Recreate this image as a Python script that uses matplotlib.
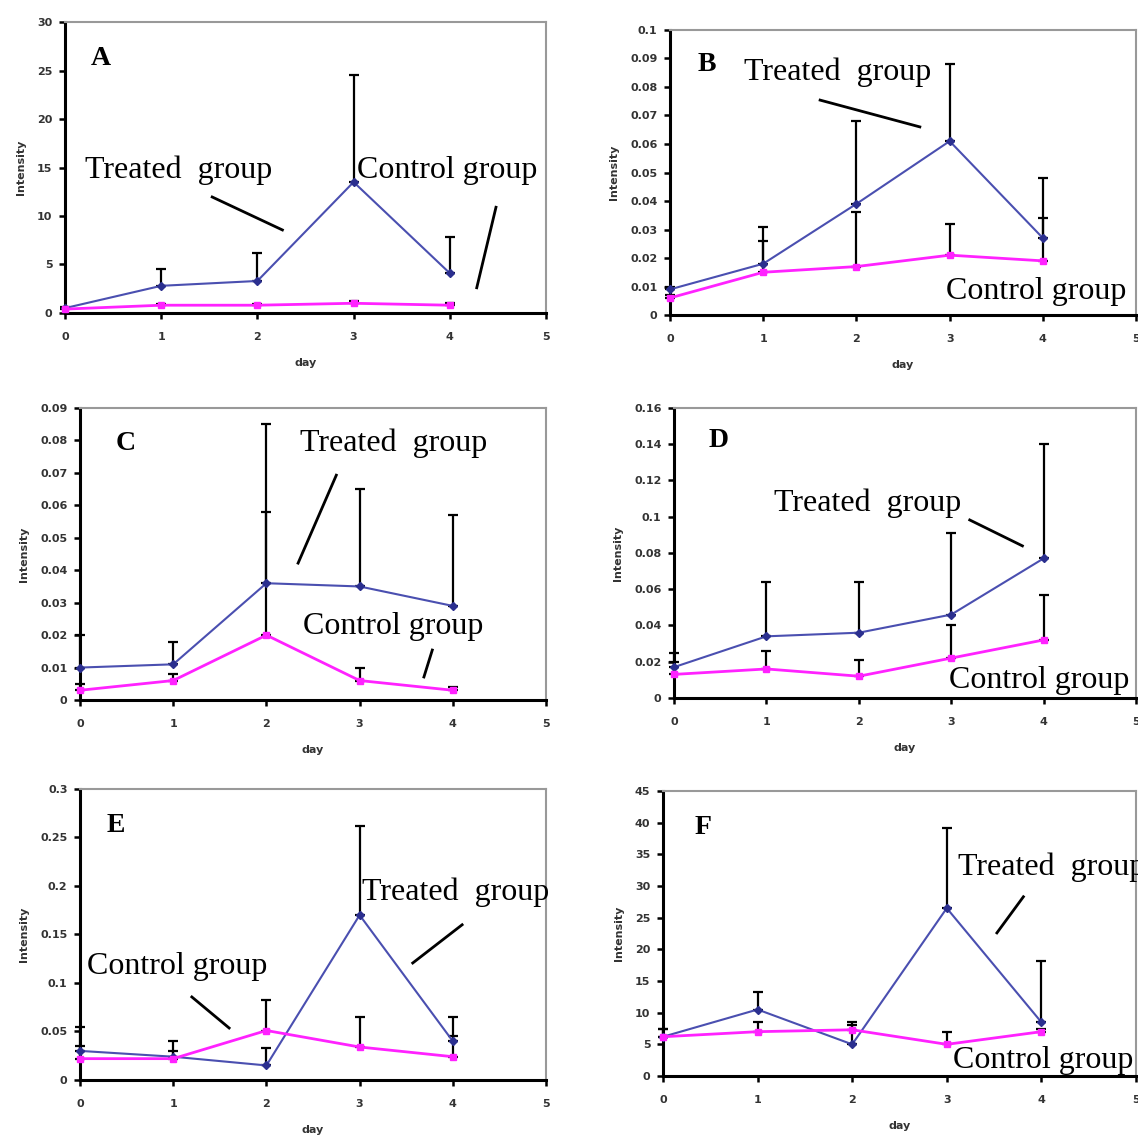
import matplotlib
matplotlib.use("Agg")
import matplotlib.pyplot as plt
from matplotlib.ticker import FuncFormatter, MultipleLocator

days = [0, 1, 2, 3, 4]

# Panel A
a_treated = [0.5, 2.8, 3.3, 13.5, 4.1]
a_treated_top = [0.6, 4.5, 6.2, 24.5, 7.8]
a_control = [0.4, 0.8, 0.8, 1.0, 0.8]
a_control_top = [0.5, 0.9, 0.9, 1.2, 1.0]
# Panel B
b_treated = [0.009, 0.018, 0.039, 0.061, 0.027]
b_treated_top = [0.010, 0.031, 0.068, 0.088, 0.048]
b_control = [0.006, 0.015, 0.017, 0.021, 0.019]
b_control_top = [0.007, 0.026, 0.036, 0.032, 0.034]
# Panel C
c_treated = [0.010, 0.011, 0.036, 0.035, 0.029]
c_treated_top = [0.020, 0.018, 0.085, 0.065, 0.057]
c_control = [0.003, 0.006, 0.020, 0.006, 0.003]
c_control_top = [0.005, 0.008, 0.058, 0.010, 0.004]
# Panel D
d_treated = [0.017, 0.034, 0.036, 0.046, 0.077]
d_treated_top = [0.025, 0.064, 0.064, 0.091, 0.140]
d_control = [0.013, 0.016, 0.012, 0.022, 0.032]
d_control_top = [0.020, 0.026, 0.021, 0.040, 0.057]
# Panel E
e_treated = [0.030, 0.024, 0.015, 0.170, 0.040]
e_treated_top = [0.035, 0.040, 0.033, 0.262, 0.065]
e_control = [0.022, 0.022, 0.051, 0.034, 0.024]
e_control_top = [0.055, 0.030, 0.082, 0.065, 0.045]
# Panel F
f_treated = [6.2, 10.5, 5.0, 26.5, 8.5]
f_treated_top = [7.5, 13.2, 8.0, 39.2, 18.2]
f_control = [6.2, 7.0, 7.3, 5.0, 7.0]
f_control_top = [7.5, 8.5, 8.5, 7.0, 7.5]

panel_letters = ["A", "B", "C", "D", "E", "F"]
y_max = [30, 0.1, 0.09, 0.16, 0.3, 45]
y_step = [5, 0.01, 0.01, 0.02, 0.05, 5]

NAVY = "#2b2f8f"
BLUE = "#4a4fb0"
MAG = "#ff22ff"

fig = plt.figure(figsize=(11.38, 11.36), dpi=100)

rects = [
    [0.0571, 0.7245, 0.4227, 0.2561],
    [0.5888, 0.7227, 0.4095, 0.2509],
    [0.0703, 0.3838, 0.4095, 0.2570],
    [0.5923, 0.3856, 0.4060, 0.2553],
    [0.0703, 0.0493, 0.4095, 0.2562],
    [0.5826, 0.0528, 0.4156, 0.2509],
]

series = [
    (a_treated, a_treated_top, a_control, a_control_top),
    (b_treated, b_treated_top, b_control, b_control_top),
    (c_treated, c_treated_top, c_control, c_control_top),
    (d_treated, d_treated_top, d_control, d_control_top),
    (e_treated, e_treated_top, e_control, e_control_top),
    (f_treated, f_treated_top, f_control, f_control_top),
]

annots = [
    dict(letter=(0.27, 26.2), tt=(0.21, 14.7), tl=((1.53, 11.96), (2.26, 8.56)),
         ct=(3.04, 14.7), cl=((4.48, 10.9), (4.28, 2.6))),
    dict(letter=(0.29, 0.088), tt=(0.79, 0.0853), tl=((1.61, 0.0754), (2.68, 0.066)),
         ct=(2.96, 0.0084), cl=None),
    dict(letter=(0.38, 0.0792), tt=(2.36, 0.0792), tl=((2.75, 0.0693), (2.34, 0.0422)),
         ct=(2.39, 0.0228), cl=((3.78, 0.0154), (3.69, 0.0071))),
    dict(letter=(0.37, 0.142), tt=(1.08, 0.1076), tl=((3.2, 0.0982), (3.77, 0.0839)),
         ct=(2.98, 0.0099), cl=None),
    dict(letter=(0.29, 0.262), tt=(3.03, 0.194), tl=((4.10, 0.160), (3.57, 0.1206)),
         ct=(0.075, 0.1175), cl=((1.20, 0.0856), (1.60, 0.0536))),
    dict(letter=(0.33, 39.2), tt=(3.12, 33.0), tl=((3.81, 28.3), (3.53, 22.6)),
         ct=(3.07, 2.5), cl=None),
]

fmt = FuncFormatter(lambda v, p: ("%g" % round(v, 6)))

for i, rect in enumerate(rects):
    ax = fig.add_axes(rect)
    tr, trt, co, cot = series[i]
    tr_err = [[0] * 5, [t - v for t, v in zip(trt, tr)]]
    co_err = [[0] * 5, [t - v for t, v in zip(cot, co)]]
    ax.errorbar(days, tr, yerr=tr_err, fmt="none", ecolor="black",
                elinewidth=1.6, capsize=3.5, capthick=1.6, zorder=2, clip_on=False)
    ax.errorbar(days, co, yerr=co_err, fmt="none", ecolor="black",
                elinewidth=1.6, capsize=3.5, capthick=1.6, zorder=2, clip_on=False)
    ax.plot(days, tr, color=BLUE, lw=1.5, marker="D", ms=4,
            mfc=NAVY, mec=NAVY, zorder=3, clip_on=False)
    ax.plot(days, co, color=MAG, lw=2.0, marker="s", ms=5,
            mfc=MAG, mec=MAG, zorder=3, clip_on=False)
    ax.set_xlim(0, 5)
    ax.set_ylim(0, y_max[i])
    ax.xaxis.set_major_locator(MultipleLocator(1))
    ax.yaxis.set_major_locator(MultipleLocator(y_step[i]))
    ax.yaxis.set_major_formatter(fmt)
    for s in ["top", "right"]:
        ax.spines[s].set_color("#999999")
        ax.spines[s].set_linewidth(1.5)
    for s in ["left", "bottom"]:
        ax.spines[s].set_color("black")
        ax.spines[s].set_linewidth(2.2)
    ax.tick_params(direction="out", length=4, width=1.8, labelsize=8,
                   colors="black")
    ax.tick_params(axis="x", pad=10)
    ax.tick_params(axis="y", pad=5)
    for lab in ax.get_xticklabels() + ax.get_yticklabels():
        lab.set_fontweight("bold")
        lab.set_color("#333333")
    ax.set_xlabel("day", fontsize=8, fontweight="bold", labelpad=11, color="#333333")
    ax.set_ylabel("Intensity", fontsize=8, fontweight="bold", labelpad=8, color="#333333")

    an = annots[i]
    ax.text(an["letter"][0], an["letter"][1], panel_letters[i], fontsize=20,
            fontweight="bold", family="Liberation Serif", ha="left", va="center")
    ax.text(an["tt"][0], an["tt"][1], "Treated  group", fontsize=23,
            family="Liberation Serif", ha="left", va="center", clip_on=False)
    ax.text(an["ct"][0], an["ct"][1], "Control group", fontsize=23,
            family="Liberation Serif", ha="left", va="center", clip_on=False)
    (x0, y0), (x1, y1) = an["tl"]
    ax.plot([x0, x1], [y0, y1], color="black", lw=2, zorder=4, clip_on=False)
    if an["cl"] is not None:
        (x0, y0), (x1, y1) = an["cl"]
        ax.plot([x0, x1], [y0, y1], color="black", lw=2, zorder=4, clip_on=False)

fig.savefig("out.png", dpi=100)
